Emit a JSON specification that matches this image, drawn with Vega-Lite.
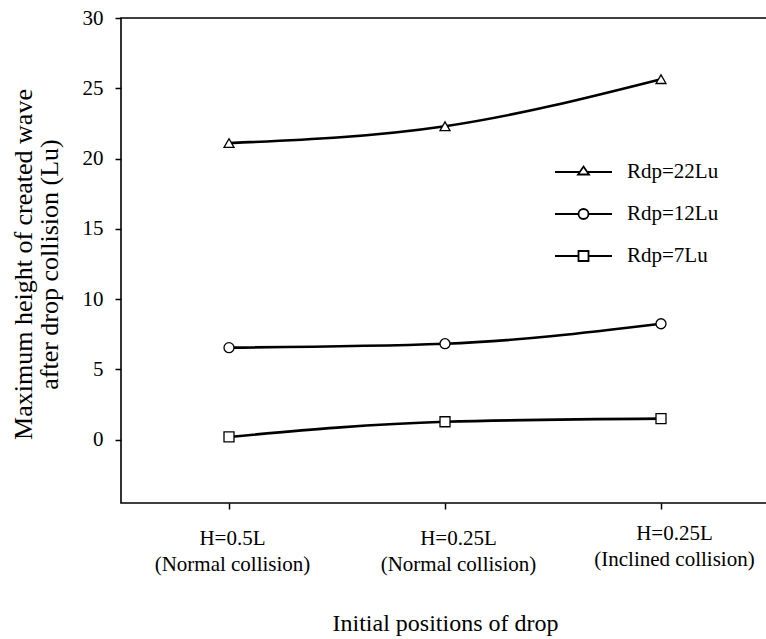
{
  "$schema": "https://vega.github.io/schema/vega-lite/v6.json",
  "autosize": {"type": "none"},
  "padding": {"left": 121, "top": 18, "right": 0, "bottom": 136},
  "width": 648,
  "height": 485,
  "background": "white",
  "config": {
    "view": {"stroke": "black", "strokeWidth": 1.6},
    "font": "Liberation Serif"
  },
  "data": {
    "values": [
      {"position": "H=0.5L|(Normal collision)", "series": "Rdp=22Lu", "height": 21.1},
      {"position": "H=0.25L|(Normal  collision)", "series": "Rdp=22Lu", "height": 22.3},
      {"position": "H=0.25L|(Inclined collision)", "series": "Rdp=22Lu", "height": 25.65},
      {"position": "H=0.5L|(Normal collision)", "series": "Rdp=12Lu", "height": 6.55},
      {"position": "H=0.25L|(Normal  collision)", "series": "Rdp=12Lu", "height": 6.83},
      {"position": "H=0.25L|(Inclined collision)", "series": "Rdp=12Lu", "height": 8.25},
      {"position": "H=0.5L|(Normal collision)", "series": "Rdp=7Lu", "height": 0.2},
      {"position": "H=0.25L|(Normal  collision)", "series": "Rdp=7Lu", "height": 1.28},
      {"position": "H=0.25L|(Inclined collision)", "series": "Rdp=7Lu", "height": 1.5}
    ]
  },
  "encoding": {
    "x": {
      "field": "position",
      "type": "ordinal",
      "sort": null,
      "scale": {"type": "point", "padding": 0.5},
      "axis": {
        "title": "Initial positions of drop",
        "titleFont": "Liberation Serif",
        "titleFontSize": 24,
        "titleFontWeight": "normal",
        "titleColor": "black",
        "titleBaseline": "alphabetic",
        "titleY": 127,
        "labelExpr": "split(datum.label, '|')",
        "labelAngle": 0,
        "labelFont": "Liberation Serif",
        "labelFontSize": 21,
        "labelColor": "black",
        "labelLineHeight": 26,
        "labelBaseline": "top",
        "labelPadding": {"condition": {"test": "indexof(datum.value, 'Inclined') >= 0", "value": 13}, "value": 18},
        "labelOffset": {"condition": {"test": "indexof(datum.value, 'H=0.5L') >= 0", "value": 3}, "value": 13},
        "domain": false,
        "ticks": true,
        "tickColor": "black",
        "tickWidth": 1.5,
        "tickSize": 6,
        "grid": false
      }
    },
    "y": {
      "field": "height",
      "type": "quantitative",
      "scale": {"domain": [-4.5, 30], "nice": false, "zero": false},
      "axis": {
        "title": ["Maximum height of created wave", "after drop collision (Lu)"],
        "titleFont": "Liberation Serif",
        "titleFontSize": 26,
        "titleFontWeight": "normal",
        "titleColor": "black",
        "titleLineHeight": 26,
        "titleAngle": -90,
        "titleAlign": "center",
        "titleBaseline": "alphabetic",
        "titleX": -90,
        "titleY": 246,
        "values": [0, 5, 10, 15, 20, 25, 30],
        "labelFont": "Liberation Serif",
        "labelFontSize": 21,
        "labelColor": "black",
        "labelPadding": 12,
        "domain": false,
        "ticks": true,
        "tickColor": "black",
        "tickWidth": 1.5,
        "tickSize": 6,
        "grid": false
      }
    }
  },
  "layer": [
    {
      "mark": {"type": "line", "interpolate": "monotone", "color": "black", "strokeWidth": 2.6},
      "encoding": {"detail": {"field": "series"}}
    },
    {
      "mark": {"type": "point", "filled": true, "fill": "white", "stroke": "black", "strokeWidth": 1.3, "size": 100, "opacity": 1},
      "encoding": {
        "shape": {
          "field": "series",
          "type": "nominal",
          "scale": {"domain": ["Rdp=22Lu", "Rdp=12Lu", "Rdp=7Lu"], "range": ["triangle-up", "circle", "square"]},
          "legend": null
        }
      }
    },
    {
      "mark": {"type": "point", "filled": false, "color": "black", "stroke": "black", "strokeWidth": 1.8, "size": 0, "opacity": 1},
      "encoding": {
        "shape": {
          "field": "series",
          "type": "nominal",
          "scale": {
            "domain": ["Rdp=22Lu", "Rdp=12Lu", "Rdp=7Lu"],
            "range": [
              "M-2.85,0H-0.38M0.38,0H2.85M0,-0.55L0.55,0.25L-0.55,0.25Z",
              "M-2.85,0H-0.5M0.5,0H2.85M0.5,0A0.5,0.5,0,1,1,-0.5,0A0.5,0.5,0,1,1,0.5,0Z",
              "M-2.85,0H-0.5M0.5,0H2.85M-0.5,-0.5H0.5V0.5H-0.5Z"
            ]
          },
          "legend": {
            "orient": "none",
            "legendX": 451.5,
            "legendY": 143,
            "title": null,
            "padding": 0,
            "symbolSize": 400,
            "symbolStrokeWidth": 1.8,
            "symbolStrokeColor": "black",
            "symbolFillColor": "white",
            "rowPadding": 21,
            "labelFont": "Liberation Serif",
            "labelFontSize": 21,
            "labelColor": "black",
            "labelOffset": 32.5
          }
        }
      }
    }
  ],
  "resolve": {"scale": {"shape": "independent"}, "legend": {"shape": "independent"}}
}
